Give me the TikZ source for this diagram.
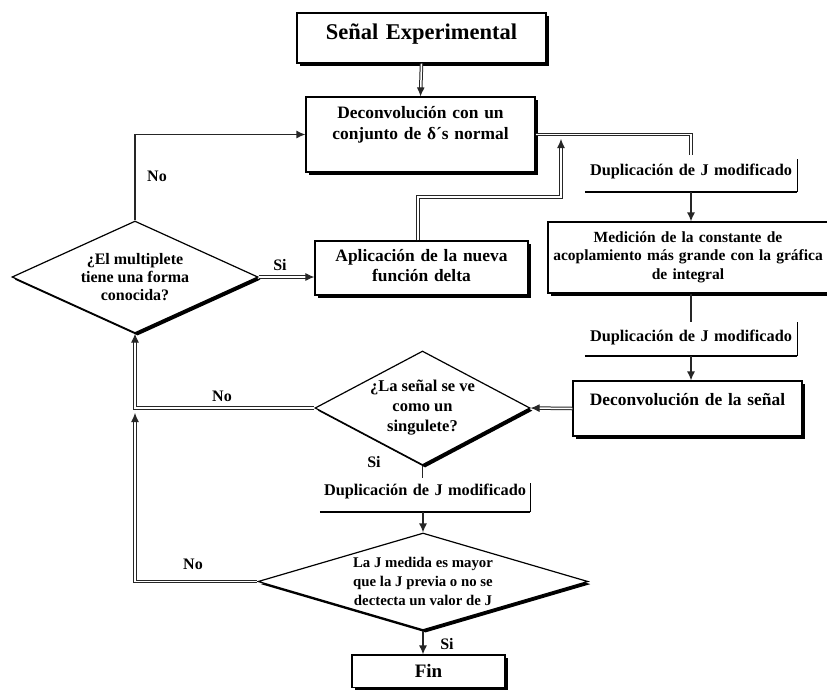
\documentclass[tikz,border=0pt]{standalone}
\usepackage{fontspec}
\setmainfont{Liberation Serif}
\usetikzlibrary{shapes.geometric,shadows,arrows.meta}
\begin{document}
\begin{tikzpicture}[x=1pt,y=-1pt,
  shad/.style={drop shadow={shadow xshift=2.6pt,shadow yshift=-2.6pt,fill=black,opacity=1}},
  pbox/.style={draw=black, line width=1.2pt, fill=white, shad, inner sep=0pt, align=center},
  dia/.style={diamond, draw=black, line width=1.2pt, fill=white, shad, inner sep=-8pt, align=center},
  dup/.style={inner sep=0pt, align=center, font=\bfseries\fontsize{16.3}{19}\selectfont},
  lab/.style={font=\bfseries\fontsize{16}{19}\selectfont, inner sep=0pt},
  dbl/.style={draw=black!85, double=white, double distance=1.5pt, line width=1pt},
  sgl/.style={draw=black!85, line width=1.3pt},
  tip/.style={-{Latex[length=9pt,width=8pt]}},
  bline/.style={line width=2.4pt},
  rline/.style={line width=1.2pt}
]
\useasboundingbox (0,0) rectangle (827,689);
\fill[white] (0,0) rectangle (827,689);

% boxes
\node[pbox, text width=249pt, text height=26.5pt, text depth=23.5pt,
      font=\bfseries\fontsize{22.5}{26}\selectfont] (title) at (421.5,38) {Señal Experimental};
\node[pbox, text width=229pt, text height=21.7pt, text depth=53.3pt,
      font=\bfseries\fontsize{17.4}{21}\selectfont] (dec) at (420.5,134.5)
      {Deconvolución con un\\conjunto de δ´s normal};
\node[dia, minimum width=246pt, minimum height=112pt, aspect=2.2,
      font=\bfseries\fontsize{16}{18}\selectfont] (d1) at (135,277)
      {¿El multiplete\\tiene una forma\\conocida?};
\node[pbox, text width=213pt, text height=20.7pt, text depth=33.3pt,
      font=\bfseries\fontsize{17.4}{20}\selectfont] (apl) at (421.5,268)
      {Aplicación de la nueva\\función delta};
\node[dup, text width=212pt, text height=20.4pt, text depth=16.6pt] (dup1) at (691,173.5)
      {Duplicación de J modificado};
\node[pbox, text width=280pt, text height=20.3pt, text depth=50.7pt,
      font=\bfseries\fontsize{15.5}{18.5}\selectfont] (med) at (688,257.5)
      {Medición de la constante de\\acoplamiento más grande con la gráfica\\de integral};
\node[dup, text width=212pt, text height=19.4pt, text depth=14.6pt] (dup2) at (691,339)
      {Duplicación de J modificado};
\node[pbox, text width=229pt, text height=24.7pt, text depth=30.3pt,
      font=\bfseries\fontsize{17.4}{20}\selectfont] (dsen) at (687.5,408.5)
      {Deconvolución de la señal};
\node[dia, minimum width=215pt, minimum height=114pt, aspect=1.9,
      font=\bfseries\fontsize{16.5}{20}\selectfont] (d2) at (422.5,408)
      {¿La señal se ve\\como un\\singulete?};
\node[dup, text width=210pt, text height=17.4pt, text depth=16.6pt] (dup3) at (425,495)
      {Duplicación de J modificado};
\node[dia, minimum width=330pt, minimum height=97pt, aspect=3.4,
      font=\bfseries\fontsize{14.8}{19}\selectfont] (d3) at (423,581.5)
      {La J medida es mayor\\que la J previa o no se\\dectecta un valor de J};
\node[pbox, text width=153pt, text height=22.7pt, text depth=10pt,
      font=\bfseries\fontsize{19}{22}\selectfont] (fin) at (428.5,671.35) {Fin};

% brackets of the annotation labels
\draw[bline] (dup1.south west) -- (dup1.south east);
\draw[rline] (dup1.south east) -- ([yshift=-4pt]dup1.north east);
\draw[bline] (dup2.south west) -- (dup2.south east);
\draw[rline] (dup2.south east) -- (dup2.north east);
\draw[bline] (dup3.south west) -- (dup3.south east);
\draw[rline] (dup3.south east) -- ([yshift=-5pt]dup3.north east);

% labels
\node[lab] (no1) at (157,176) {No};
\node[lab] (si1) at (280,265) {Si};
\node[lab] (no2) at (222,396) {No};
\node[lab] (si2) at (374,462) {Si};
\node[lab] (no3) at (193,564) {No};
\node[lab] (si3) at (447,644) {Si};

% free coordinates
\coordinate (j1) at (135,413);
\coordinate (k1) at (418,197);
\coordinate (j2) at (561,139);

% connectors
\draw[dbl,tip] (title.south) -- (dec.north);
\draw[sgl,tip] (d1.north) |- (dec.west);
\draw[dbl,tip] (d1.east) -- (d1.east -| apl.west);
\draw[dbl,tip] (apl.north -| k1) -- (k1) -| (j2);
\draw[dbl] (dec.east) -| (dup1.north);
\draw[sgl,tip] (dup1.south) -- (dup1.south |- med.north);
\draw[sgl] (med.south -| dup2.north) -- (dup2.north);
\draw[sgl,tip] (dup2.south) -- (dup2.south |- dsen.north);
\draw[dbl,tip] (dsen.west) -- (d2.east);
\draw[dbl,tip] (d2.west) -| (d1.south);
\draw[sgl] (d2.south) -- (d2.south |- dup3.north);
\draw[sgl,tip] (dup3.south -| d3.north) -- (d3.north);
\draw[dbl,tip] (d3.west) -| (j1);
\draw[sgl,tip] (d3.south) -- (d3.south |- fin.north);
\end{tikzpicture}
\end{document}
